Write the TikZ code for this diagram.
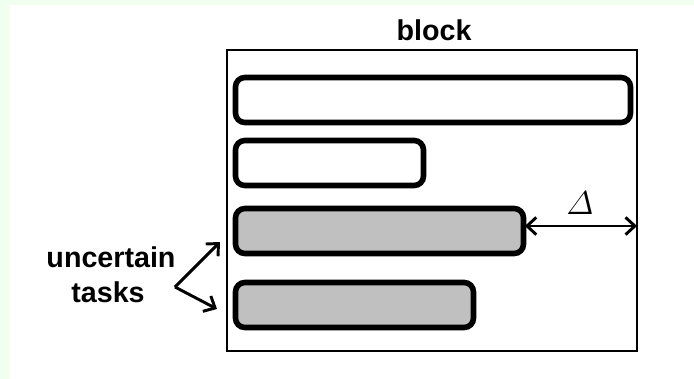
\documentclass[tikz,border=0pt]{standalone}
\usepackage{amsmath}
\usepackage{fontspec}
\setmainfont{Liberation Sans}
\usetikzlibrary{arrows.meta}
\definecolor{bggreen}{HTML}{F0FFF0}
\definecolor{taskgray}{HTML}{C0C0C0}
\tikzset{
  taskbox/.style={draw=black, line width=4.2pt, rounded corners=7pt, inner sep=0pt, outer sep=0pt,
    minimum height=33.75pt, anchor=north west},
  plain/.style={taskbox, fill=white},
  uncertain/.style={taskbox, fill=taskgray},
  blockbox/.style={draw=black, line width=2.2pt, inner sep=0pt, outer sep=0pt, anchor=north west,
    minimum width=307.5pt, minimum height=225.75pt},
  lbl/.style={font=\fontsize{21.5}{24}\selectfont\bfseries, inner sep=0pt},
  conn/.style={line width=2.2pt, -{Straight Barb[length=7pt,width=13pt,line width=2.2pt]}},
  dconn/.style={line width=2.2pt, {Straight Barb[length=7pt,width=13pt,line width=2.2pt]}-{Straight Barb[length=7pt,width=13pt,line width=2.2pt]}}
}
\begin{document}
\begin{tikzpicture}[x=0.75pt,y=-0.75pt]
\useasboundingbox (0,0) rectangle (694,379);
\fill[bggreen] (0,0) rectangle (694,379);
\fill[white] (10,5) rectangle (694,379);

\node[blockbox] (blk) at (227,50) {};
\node[lbl, anchor=base] (blocklbl) at (434,40) {block};

\node[plain, minimum width=296.25pt] (t1) at (235.5,77.5) {};
\node[plain, minimum width=141pt] (t2) at (235.5,140.5) {};
\node[uncertain, minimum width=216pt] (t3) at (235.5,208.5) {};
\node[uncertain, minimum width=178.5pt] (t4) at (235.5,282.5) {};

\coordinate (dy) at (0,226);
\draw[dconn] ([xshift=1pt]t3.east |- dy) -- (blk.east |- dy);
\node[inner sep=0pt] (delta) at (580,203) {\fontsize{30}{30}\selectfont$\varDelta$};

\node[lbl, anchor=base] (unc) at (111,267) {uncertain};
\node[lbl, anchor=base] (tasks) at (108,302) {tasks};

\coordinate (v) at (175,287);
\coordinate (e1) at (220,242);
\coordinate (e2) at (217,309);
\draw[conn] (v) -- (e1);
\draw[conn] (v) -- (e2);
\end{tikzpicture}
\end{document}
